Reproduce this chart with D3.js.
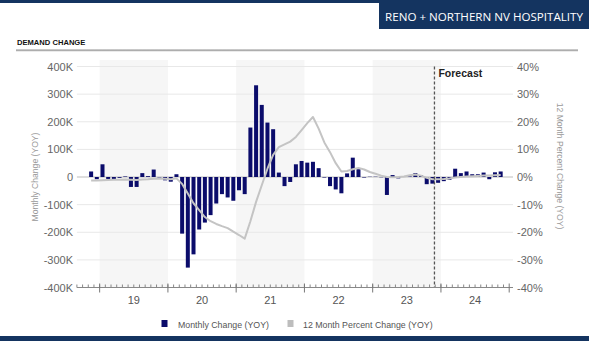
<!DOCTYPE html>
<html><head><meta charset="utf-8">
<script src="https://cdn.jsdelivr.net/npm/d3@7"></script>
<style>
html,body{margin:0;padding:0;background:#fff;}
svg{display:block;font-family:"Liberation Sans",Arial,sans-serif;}
</style></head>
<body><svg id="c" width="589" height="341"></svg>
<script>
// ---- data ----
const months = d3.range(0, 76).map(i => { const d = new Date(2018, 8 + i, 1); return d3.timeFormat("%Y-%m")(d); }); // Sep 2018 .. Dec 2024
const years = ["2019","2020","2021","2022","2023","2024"];
const yearLabels = ["19","20","21","22","23","24"];
const shadedYears = ["2019","2021","2023"];
// Monthly Change (YOY), thousands of room nights, Sep 2018 .. Dec 2024
const monthlyChange = [
  null, null, 20, -8,
  46, -7, -8, -3, 2, -36, -36, 14, 3, 27, -2, -12,
  -17, 10, -205, -328, -280, -190, -165, -138, -96, -62, -74, -86,
  -48, -62, 179, 332, 261, 197, 173, 16, -33, -18, 46, 58,
  52, 55, 32, -2, -33, -45, -59, 13, 70, 28, -2, 1,
  1, -1, -65, 7, -5, 1, 2, 14, 6, -26, -24, -21,
  -15, -10, 30, 14, 20, 10, 10, 16, -8, 17, 20, null
];
// 12 Month Percent Change (YOY), %
const pctChange = [
  null, null, -1.3, -1.3,
  -1.2, -1.1, -1.0, -1.0, -0.9, -1.0, -1.1, -0.9, -0.8, -0.6, -0.5, -0.6,
  -0.8, -0.5, -2.5, -6, -9.5, -12, -14.5, -16, -17, -17.8, -18.5, -19.8,
  -21, -22.3, -16, -9, -3, 3, 8, 10.8, 11.8, 12.8, 14.5, 17,
  19.5, 21.7, 17.5, 12.5, 9, 5, 2, 2.2, 2.8, 3.3, 2.7, 1.8,
  1.2, 0.5, 0, -0.1, 0, 0.2, 0.6, 0.9, 0.5, -0.3, -0.8, -0.8,
  -0.7, -0.5, -0.2, 0, 0.2, 0.3, 0.4, 0.5, 0.5, 0.6, 0.7, null
];
const leftTicks = [-400, -300, -200, -100, 0, 100, 200, 300, 400];
const leftTickLabels = ["-400K","-300K","-200K","-100K","0","100K","200K","300K","400K"];
const rightTicks = [-40, -30, -20, -10, 0, 10, 20, 30, 40];
const rightTickLabels = ["-40%","-30%","-20%","-10%","0%","10%","20%","30%","40%"];
const forecastStart = "2023-12";
const seriesNames = ["Monthly Change (YOY)", "12 Month Percent Change (YOY)"];

// ---- layout ----
const W = 589, H = 341;
const L = 76.9, R = 509.2, T = 66.5, B = 287.5;
const navy = "#143460", barColor = "#0b0c6b", lineColor = "#c4c4c4";

const svg = d3.select("#c");
const mw = (R - L) / months.length;
const mStart = m => L + months.indexOf(m) * mw;
const mCenter = m => mStart(m) + mw / 2;
const y = d3.scaleLinear().domain([-400, 400]).range([B, T]);
const y2 = d3.scaleLinear().domain([-40, 40]).range([B, T]);

// header
svg.append("rect").attr("x",0).attr("y",0).attr("width",W).attr("height",3).attr("fill",navy);
svg.append("rect").attr("x",379).attr("y",3).attr("width",210).attr("height",26).attr("fill",navy);
svg.append("text").attr("x",484).attr("y",20.5).attr("text-anchor","middle")
  .attr("fill","#fff").style("font-family","'Open Sans',sans-serif").style("font-size","11.6px")
  .text("RENO + NORTHERN NV HOSPITALITY");
svg.append("text").attr("x",17).attr("y",45).attr("fill","#111")
  .style("font-size","7.6px").style("font-weight","bold").text("DEMAND CHANGE");
const g0 = svg.append("defs").append("linearGradient").attr("id","rule").attr("x1",0).attr("x2",0).attr("y1",0).attr("y2",1);
g0.append("stop").attr("offset","0").attr("stop-color","#d6d6d6");
g0.append("stop").attr("offset","1").attr("stop-color","#9a9a9a");
svg.append("rect").attr("x",16).attr("y",49).attr("width",562).attr("height",2.2).attr("fill","url(#rule)");
svg.append("rect").attr("x",0).attr("y",336).attr("width",W).attr("height",5).attr("fill",navy);

// shaded year bands
svg.append("g").selectAll("rect").data(shadedYears).join("rect")
  .attr("x", d => mStart(d + "-01")).attr("y", 60)
  .attr("width", 12 * mw).attr("height", B - 60).attr("fill", "#f6f6f6");

// gridlines
svg.append("g").selectAll("line").data(leftTicks.filter(d => d !== -400)).join("line")
  .attr("x1", L).attr("x2", 513).attr("y1", d => y(d)).attr("y2", d => y(d))
  .attr("stroke", d => d === 0 ? "#bdbdbd" : "#e8e8e8").attr("stroke-width", 1);

// bars
svg.append("g").selectAll("rect").data(months.map((m, i) => ({m, v: monthlyChange[i]})).filter(d => d.v !== null)).join("rect")
  .attr("x", d => mCenter(d.m) - 2).attr("width", 4)
  .attr("y", d => y(Math.max(0, d.v))).attr("height", d => Math.abs(y(d.v) - y(0)))
  .attr("fill", barColor);

// line
const lineData = months.map((m, i) => ({m, v: pctChange[i]})).filter(d => d.v !== null);
svg.append("path").datum(lineData)
  .attr("d", d3.line().x(d => mCenter(d.m)).y(d => y2(d.v)))
  .attr("fill","none").attr("stroke",lineColor).attr("stroke-width",2).attr("stroke-linejoin","round");

// forecast
const fx = mStart(forecastStart) - 0.8;
svg.append("line").attr("x1",fx).attr("x2",fx).attr("y1",T).attr("y2",B)
  .attr("stroke","#555").attr("stroke-width",1.3).attr("stroke-dasharray","3,2");
svg.append("text").attr("x",fx+4).attr("y",77).attr("fill","#222")
  .style("font-size","10.5px").style("font-weight","bold").text("Forecast");

// bottom axis
svg.append("line").attr("x1",L).attr("x2",513).attr("y1",B).attr("y2",B).attr("stroke","#888").attr("stroke-width",1);
svg.append("g").selectAll("line").data(months).join("line")
  .attr("x1", d => mStart(d)).attr("x2", d => mStart(d))
  .attr("y1", B - 3).attr("y2", B)
  .attr("stroke","#888");
svg.append("g").selectAll("line").data(years.concat(["2025"])).join("line")
  .attr("x1", d => d === "2025" ? R : mStart(d + "-01")).attr("x2", d => d === "2025" ? R : mStart(d + "-01"))
  .attr("y1", B - 4).attr("y2", B + 5).attr("stroke","#777");
svg.append("g").selectAll("text").data(years).join("text")
  .attr("x", d => mStart(d + "-01") + 6 * mw).attr("y", B + 16)
  .attr("text-anchor","middle").attr("fill","#555").style("font-size","11px")
  .text((d, i) => yearLabels[i]);

// left axis labels
svg.append("g").selectAll("text").data(leftTicks).join("text")
  .attr("x", 73).attr("y", d => y(d) + 4).attr("text-anchor","end")
  .attr("fill","#666").style("font-size","11px").text((d, i) => leftTickLabels[i]);
// right axis labels
svg.append("g").selectAll("text").data(rightTicks).join("text")
  .attr("x", 517).attr("y", d => y2(d) + 4).attr("text-anchor","start")
  .attr("fill","#666").style("font-size","11px").text((d, i) => rightTickLabels[i]);

// axis titles
svg.append("text").attr("transform","translate(38,177) rotate(-90)").attr("text-anchor","middle")
  .attr("fill","#999").style("font-size","8.6px").text("Monthly Change (YOY)");
svg.append("text").attr("transform","translate(557,166) rotate(90)").attr("text-anchor","middle")
  .attr("fill","#999").style("font-size","8.6px").text("12 Month Percent Change (YOY)");

// legend
const lg = svg.append("g");
lg.append("rect").attr("x",161.5).attr("y",320).attr("width",6).attr("height",7).attr("fill",barColor);
lg.append("text").attr("x",178).attr("y",327.5).attr("fill","#555").style("font-size","8.8px").text(seriesNames[0]);
lg.append("rect").attr("x",287.5).attr("y",320).attr("width",6).attr("height",7).attr("fill","#bdbdbd");
lg.append("text").attr("x",303).attr("y",327.5).attr("fill","#555").style("font-size","8.8px").text(seriesNames[1]);
</script></body></html>
